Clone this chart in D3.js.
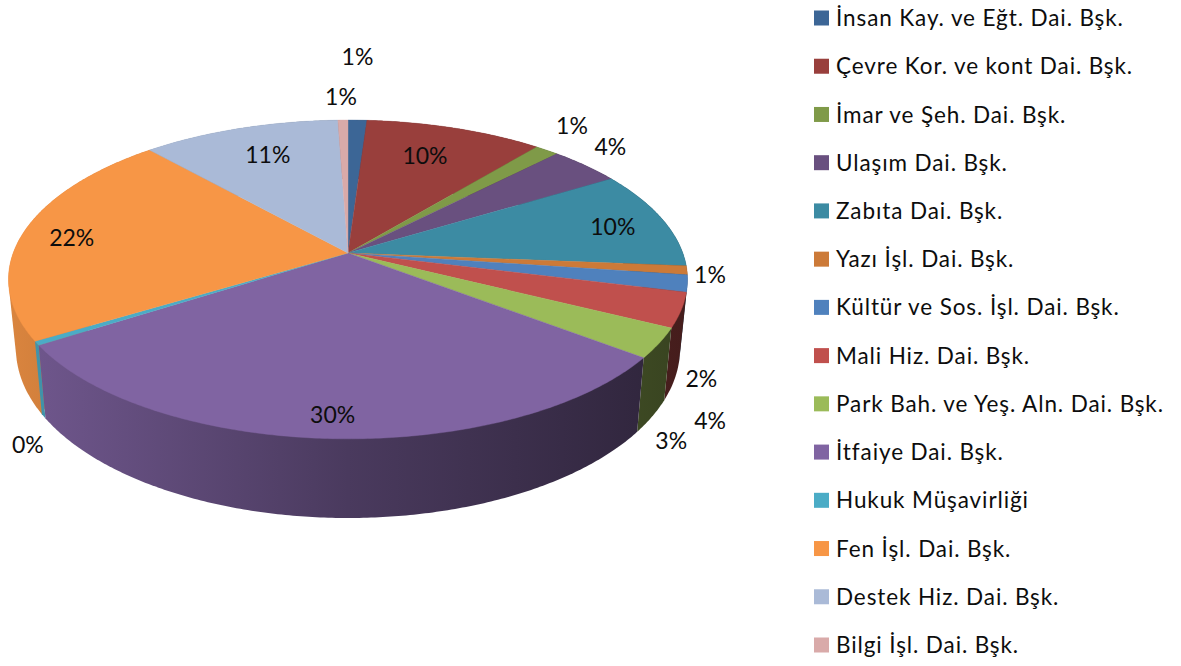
<!DOCTYPE html>
<html lang="tr">
<head>
<meta charset="utf-8">
<title>Daire Başkanlıkları</title>
<script src="https://cdn.jsdelivr.net/npm/d3@7"></script>
<style>
    body { margin: 0; background: #fff; }
    text { font-family: Lato, "Open Sans", sans-serif; fill: #0d0d0d; }
</style>
</head>
<body>
<div id="chart"></div>
<script>
// Slice names, in legend order
const categories = [
    "İnsan Kay. ve Eğt. Dai. Bşk.",
    "Çevre Kor. ve kont Dai. Bşk.",
    "İmar ve Şeh. Dai. Bşk.",
    "Ulaşım Dai. Bşk.",
    "Zabıta Dai. Bşk.",
    "Yazı İşl. Dai. Bşk.",
    "Kültür ve Sos. İşl. Dai. Bşk.",
    "Mali Hiz. Dai. Bşk.",
    "Park Bah. ve Yeş. Aln. Dai. Bşk.",
    "İtfaiye Dai. Bşk.",
    "Hukuk Müşavirliği",
    "Fen İşl. Dai. Bşk.",
    "Destek Hiz. Dai. Bşk.",
    "Bilgi İşl. Dai. Bşk."
];

// Slice sizes, percent
const shares = [1.05, 9.92, 1.33, 4.0, 10.0, 0.9, 1.7, 3.5, 3.0, 30.5, 0.4, 22.1, 11.04, 0.56];

// Printed labels
const percentLabels = ["1%", "10%", "1%", "4%", "10%", "1%", "2%", "4%", "3%", "30%", "0%", "22%", "11%", "1%"];

const colors = [
    "#3c6696", "#993f3c", "#7f9a48", "#69507f", "#3c8ba3", "#cc7a38", "#4f81bd",
    "#c0504d", "#9bbb59", "#8064a2", "#4bacc6", "#f79646", "#aabad7", "#d9aaa9"
];

// Hand placed labels: shift from the middle of the slice's rim
const labelShift = [
    [0, -63], [-30, 28], [25, -25], [25, -19], [-49, 8], [23, 4], [14, 95],
    [29, 111], [12, 98], [1, -24], [-9, 102], [47, 7], [28, 26], [-2, -23]
];

const width = 1181,
    height = 666;

// Perspective of the disc: back of the pie is squeezed, front is stretched
const cx = 348,
    topY = 253,
    bottomY = 320.4,
    radius = 334.8,
    persp = 0.166,
    topTilt = 155,
    bottomTilt = 164.8,
    bottomScale = 0.978;

// angle is clockwise from 12 o'clock, like d3.pie
function rim(angle, bottom) {
    const v = Math.cos(angle);
    const den = 1 + persp * v;
    const scale = bottom ? bottomScale : 1;
    return [
        cx + (scale * radius * Math.sin(angle)) / den,
        (bottom ? bottomY - (bottomTilt * v) / den : topY - (topTilt * v) / den)
    ];
}

function arcPoints(a0, a1, bottom) {
    const steps = Math.max(2, Math.ceil((a1 - a0) / 0.01));
    return d3.range(steps + 1).map((i) => rim(a0 + ((a1 - a0) * i) / steps, bottom));
}

const svg = d3
    .select("#chart")
    .append("svg")
    .attr("width", width)
    .attr("height", height);

const pie = d3.pie().sort(null).value((d) => d);
const slices = pie(shares);
const line = d3.line();

// Side wall gets darker from left to right
const shade = [
    { at: 0, k: 0.88 },
    { at: 0.5, k: 0.58 },
    { at: 1, k: 0.36 }
];
const defs = svg.append("defs");
colors.forEach((c, i) => {
    const grad = defs
        .append("linearGradient")
        .attr("id", "side" + i)
        .attr("gradientUnits", "userSpaceOnUse")
        .attr("x1", cx - radius)
        .attr("x2", cx + radius)
        .attr("y1", 0)
        .attr("y2", 0);
    const base = d3.rgb(c);
    shade.forEach((s) => {
        grad.append("stop")
            .attr("offset", s.at)
            .attr("stop-color", d3.rgb(base.r * s.k, base.g * s.k, base.b * s.k).formatHex());
    });
});

// Walls first, back ones before front ones, the top faces then cover the hidden parts.
// Hull of both rims so the wall also fills the silhouette at the far left and right.
const wallOrder = slices
    .slice()
    .sort((a, b) => Math.cos((b.startAngle + b.endAngle) / 2) - Math.cos((a.startAngle + a.endAngle) / 2));

svg.append("g")
    .selectAll("path")
    .data(wallOrder)
    .enter()
    .append("path")
    .attr("fill", (d) => `url(#side${d.index})`)
    .attr("d", (d) => {
        const upper = arcPoints(d.startAngle, d.endAngle, false);
        const lower = arcPoints(d.startAngle, d.endAngle, true);
        return line(d3.polygonHull(upper.concat(lower))) + "Z";
    });

svg.append("g")
    .selectAll("path")
    .data(slices)
    .enter()
    .append("path")
    .attr("fill", (d) => colors[d.index])
    .attr("stroke", (d) => colors[d.index])
    .attr("stroke-width", 0.4)
    .attr("d", (d) => line([[cx, topY]].concat(arcPoints(d.startAngle, d.endAngle, false))) + "Z");

// Data labels
svg.append("g")
    .selectAll("text")
    .data(slices)
    .enter()
    .append("text")
    .attr("text-anchor", "middle")
    .attr("dy", "0.36em")
    .attr("font-size", 23)
    .attr("x", (d) => rim((d.startAngle + d.endAngle) / 2, false)[0] + labelShift[d.index][0])
    .attr("y", (d) => rim((d.startAngle + d.endAngle) / 2, false)[1] + labelShift[d.index][1])
    .text((d) => percentLabels[d.index]);

// Legend
const legendY = d3.scalePoint().domain(categories).range([18, 645]);
const legend = svg
    .append("g")
    .selectAll("g")
    .data(categories)
    .enter()
    .append("g")
    .attr("transform", (d) => `translate(814,${legendY(d)})`);

legend
    .append("rect")
    .attr("y", -7.5)
    .attr("width", 15)
    .attr("height", 15)
    .attr("fill", (d, i) => colors[i]);

legend
    .append("text")
    .attr("x", 22)
    .attr("dy", "0.36em")
    .attr("font-size", 22.5)
    .attr("letter-spacing", 0.9)
    .text((d) => d);
</script>
</body>
</html>
